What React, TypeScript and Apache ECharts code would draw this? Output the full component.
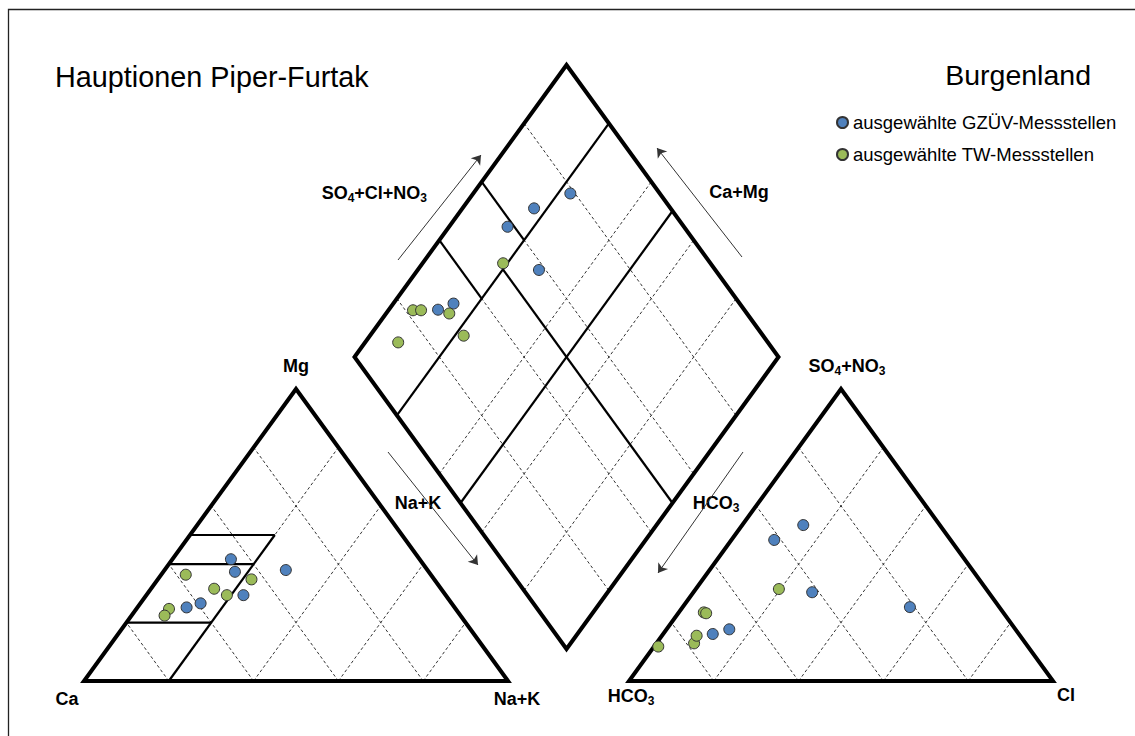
import React, { useEffect, useRef } from "react";
import * as echarts from "echarts";

// ---------------- data (% of meq) ----------------
const seriesNames = ["ausgewählte GZÜV-Messstellen", "ausgewählte TW-Messstellen"];
const seriesColors = ["#4f81bd", "#9bbb59"];

// GZÜV sampling points
const gzuevNaK = [13.8, 16.9, 28.6, 22.9, 14.2, 11.6];
const gzuevMg = [41.7, 37.4, 38.0, 29.4, 26.6, 25.2];
const gzuevSO4NO3 = [48.3, 53.4, 30.4, 25.3, 17.7, 16.1];
const gzuevCl = [10.1, 14.4, 28.0, 53.6, 14.8, 11.7];

// TW sampling points
const twNaK = [5.8, 22.1, 14.9, 19.0, 7.7, 7.8];
const twMg = [36.4, 34.8, 31.6, 29.4, 24.7, 22.4];
const twSO4NO3 = [12.9, 23.5, 23.2, 31.5, 15.5, 11.8];
const twCl = [8.9, 5.9, 6.6, 19.6, 8.2, 1.0];

// grid steps (%)
const gridSteps = [20, 40, 60, 80];
// Furtak classification boundaries (%)
const furtakCatMg = [20, 40, 50];
const furtakCatNaK = 20;
const furtakAnionSplitLow = [40, 60];
const furtakAnionSplit = 50;
const furtakNaK = [20, 50];

// ---------------- layout ----------------
const W = 424; // triangle base width
const H = 292; // triangle height
const CAT: [number, number] = [84, 681];
const AN: [number, number] = [629, 681];
const DL: [number, number] = [354.5, 357]; // diamond left vertex
const FONT = '"Liberation Sans", Arial, Helvetica, sans-serif';

function triPt(o: [number, number], r: number, t: number): [number, number] {
  return [o[0] + ((r + t / 2) / 100) * W, o[1] - (t / 100) * H];
}
function diaPt(s: number, n: number): [number, number] {
  return [DL[0] + ((s + n) / 100) * (W / 2), DL[1] + ((n - s) / 100) * H];
}

function buildOption() {
  const dashed: any[] = [];
  const solid: any[] = [];
  const outline: any[] = [];

  for (const o of [CAT, AN]) {
    for (const k of gridSteps) {
      dashed.push({ coords: [triPt(o, k, 0), triPt(o, k, 100 - k)] });
      dashed.push({ coords: [triPt(o, 100 - k, 0), triPt(o, 0, 100 - k)] });
    }
    const p0 = triPt(o, 0, 0), p1 = triPt(o, 100, 0), p2 = triPt(o, 0, 100);
    outline.push({ coords: [p0, p1, p2, p0, p1] });
  }
  for (const k of gridSteps) {
    dashed.push({ coords: [diaPt(k, 0), diaPt(k, 100)] });
    dashed.push({ coords: [diaPt(0, k), diaPt(100, k)] });
  }
  {
    const l = diaPt(0, 0), t = diaPt(100, 0), r = diaPt(100, 100), b = diaPt(0, 100);
    outline.push({ coords: [l, t, r, b, l, t] });
  }
  // Furtak lines, cation triangle
  solid.push({ coords: [triPt(CAT, furtakCatNaK, 0), triPt(CAT, furtakCatNaK, 50)] });
  for (const m of furtakCatMg) {
    solid.push({ coords: [triPt(CAT, 0, m), triPt(CAT, furtakCatNaK, m)] });
  }
  // Furtak lines, diamond
  for (const s of furtakAnionSplitLow) {
    solid.push({ coords: [diaPt(s, 0), diaPt(s, furtakNaK[0])] });
  }
  solid.push({ coords: [diaPt(furtakAnionSplit, furtakNaK[0]), diaPt(furtakAnionSplit, 100)] });
  for (const n of furtakNaK) {
    solid.push({ coords: [diaPt(0, n), diaPt(100, n)] });
  }

  const arrows = [
    { coords: [[398, 260], [481, 155]] },
    { coords: [[742, 257], [657, 148]] },
    { coords: [[388, 452], [478, 565]] },
    { coords: [[743, 452], [658, 573]] },
  ];

  const groups = [
    { naK: gzuevNaK, mg: gzuevMg, so4: gzuevSO4NO3, cl: gzuevCl },
    { naK: twNaK, mg: twMg, so4: twSO4NO3, cl: twCl },
  ];

  const scatter: any[] = [];
  groups.forEach((g, gi) => {
    const cat = g.naK.map((v, i) => triPt(CAT, v, g.mg[i]));
    const an = g.cl.map((v, i) => triPt(AN, v, g.so4[i]));
    const dia = g.naK.map((v, i) => diaPt(g.so4[i] + g.cl[i], v));
    for (const data of [cat, an, dia]) {
      scatter.push({
        type: "scatter",
        name: seriesNames[gi],
        data,
        symbol: "circle",
        symbolSize: 11,
        silent: true,
        z: 10,
        itemStyle: { color: seriesColors[gi], borderColor: "#333", borderWidth: 1, opacity: 1 },
      });
    }
  });

  const linesBase = { type: "lines", coordinateSystem: "cartesian2d", silent: true, polyline: true };

  const rich = {
    n: { fontSize: 18, fontWeight: "bold", fontFamily: FONT, lineHeight: 22, verticalAlign: "middle", fill: "#000" },
    s: { fontSize: 12, fontWeight: "bold", fontFamily: FONT, lineHeight: 12, verticalAlign: "bottom", fill: "#000" },
  };
  const lab = (text: string, x: number, y: number, align = "center") => ({
    type: "text",
    x,
    y,
    silent: true,
    style: { text, rich, align, verticalAlign: "middle", fill: "#000", fontSize: 18, fontWeight: "bold", fontFamily: FONT },
  });

  return {
    animation: false,
    backgroundColor: "#fff",
    grid: { left: 0, right: 0, top: 0, bottom: 0 },
    xAxis: { type: "value", min: 0, max: 1135, show: false },
    yAxis: { type: "value", min: 0, max: 736, inverse: true, show: false },
    legend: {
      data: seriesNames.map((name) => ({ name, icon: "circle" })),
      orient: "vertical",
      left: 836,
      top: 113,
      padding: 0,
      itemWidth: 11,
      itemHeight: 11,
      itemGap: 13,
      selectedMode: false,
      textStyle: { fontSize: 18.5, fontFamily: FONT, color: "#000" },
    },
    graphic: [
      {
        type: "rect",
        silent: true,
        shape: { x: 8.5, y: 9.5, width: 1300, height: 900 },
        style: { fill: "none", stroke: "#222", lineWidth: 1.3 },
        z: -1,
      },
      {
        type: "text",
        x: 55,
        y: 77,
        silent: true,
        style: { text: "Hauptionen Piper-Furtak", fontSize: 28.8, fontFamily: FONT, fill: "#000", verticalAlign: "middle" },
      },
      {
        type: "text",
        x: 1091,
        y: 75,
        silent: true,
        style: { text: "Burgenland", fontSize: 28.5, fontFamily: FONT, fill: "#000", align: "right", verticalAlign: "middle" },
      },
      lab("{n|Mg}", 296, 366),
      lab("{n|Ca}", 67, 699),
      lab("{n|Na+K}", 517, 699),
      lab("{n|HCO}{s|3}", 631, 696),
      lab("{n|Cl}", 1066, 695),
      lab("{n|SO}{s|4}{n|+NO}{s|3}", 847, 366),
      lab("{n|SO}{s|4}{n|+Cl+NO}{s|3}", 427, 193, "right"),
      lab("{n|Ca+Mg}", 739, 192),
      lab("{n|Na+K}", 418, 503),
      lab("{n|HCO}{s|3}", 716, 503),
    ],
    series: [
      { ...linesBase, z: 1, data: dashed, lineStyle: { color: "#333", width: 1, type: [3, 2.5], opacity: 1, curveness: 0 } },
      { ...linesBase, z: 2, data: solid, lineStyle: { color: "#000", width: 2.2, type: "solid", opacity: 1, curveness: 0 } },
      { ...linesBase, z: 3, data: outline, lineStyle: { color: "#000", width: 4, type: "solid", opacity: 1, curveness: 0, join: "miter" } },
      {
        type: "lines",
        coordinateSystem: "cartesian2d",
        silent: true,
        z: 3,
        data: arrows,
        symbol: ["none", "arrow"],
        symbolSize: 9,
        lineStyle: { color: "#333", width: 1, opacity: 1, curveness: 0 },
      },
      ...scatter,
    ],
  };
}

export default function App() {
  const ref = useRef<HTMLDivElement>(null);
  useEffect(() => {
    if (!ref.current) return;
    const chart = echarts.init(ref.current, null, { renderer: "svg" });
    chart.setOption(buildOption() as any);
    return () => chart.dispose();
  }, []);
  return (
    <div
      ref={ref}
      style={{ position: "absolute", left: 0, top: 0, width: 1135, height: 736, background: "#fff" }}
    />
  );
}
